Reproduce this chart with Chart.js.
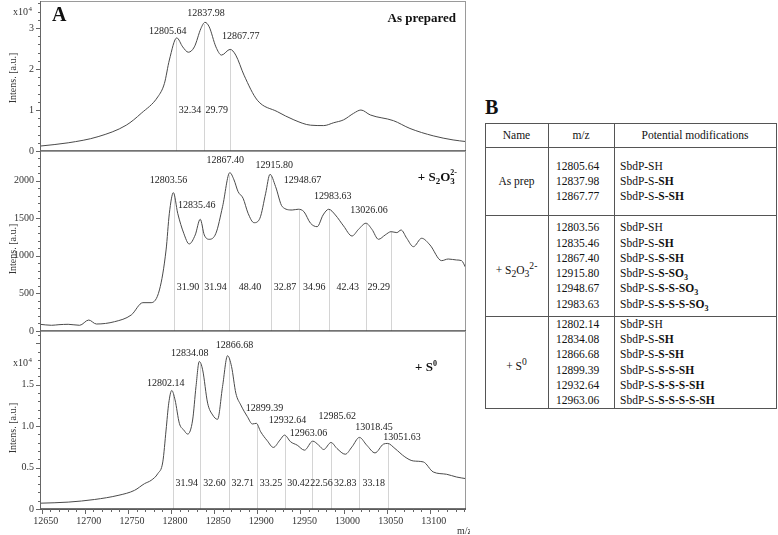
<!DOCTYPE html>
<html><head><meta charset="utf-8">
<script src="https://cdn.jsdelivr.net/npm/chart.js@4.4.1/dist/chart.umd.min.js"></script>
<style>
html,body{margin:0;padding:0;background:#fff;}
body{width:778px;height:535px;position:relative;overflow:hidden;font-family:"Liberation Serif","Times New Roman",serif;color:#111;}
canvas{position:absolute;left:0;}
.t{position:absolute;white-space:nowrap;font-size:11.5px;line-height:14px;}
.ln{position:absolute;background:#555;}
</style></head><body>
<canvas id="c1" width="470" height="160" style="top:0px"></canvas>
<canvas id="c2" width="470" height="190" style="top:150px"></canvas>
<canvas id="c3" width="470" height="205" style="top:330px"></canvas>
<div id="tbl"></div>
<script>
// ---------------- DATA ----------------
const xTickLabels = [12650,12700,12750,12800,12850,12900,12950,13000,13050,13100];

// Panel 1: As prepared (intensity x10^4)
const prepMz  = [12648,12680.7,12715.4,12748,12765.4,12784.6,12792.3,12798,12806.6,12813.5,12820,12827,12834.6,12839.3,12844.2,12852,12858.5,12868.5,12875,12884.6,12900,12923.2,12942.4,12961.7,12977,12988.6,13000,13011.7,13020.2,13031,13057.9,13077,13104,13127,13142];
const prepInt = [0.12,0.2,0.35,0.63,0.92,1.32,1.65,2.22,2.76,2.54,2.41,2.54,2.99,3.14,3.03,2.54,2.34,2.48,2.34,1.85,1.24,0.96,0.76,0.63,0.62,0.69,0.76,0.92,1.0,0.88,0.74,0.55,0.37,0.27,0.23];
const prepPeaks = [12805.64,12837.98,12867.77];
const prepLabelMz  = [12796.2,12840.4,12880.8];
const prepLabelInt = [2.93,3.36,2.80];
const prepDistInt = 1.0;

// Panel 2: + S2O3 2- (intensity a.u.)
const thioMz  = [12648,12661.4,12670,12680.7,12694,12704.5,12713.4,12734.5,12753.8,12767.3,12776.9,12786.5,12794.2,12798,12802.7,12807.7,12814.7,12821,12828,12833.8,12838.5,12844.2,12852,12859.7,12868.1,12873,12877.7,12883.5,12889.3,12896.2,12903,12909.7,12914.7,12921.2,12929,12940.5,12947.5,12954,12961.7,12969.4,12976.3,12982.8,12990.5,13000,13009.8,13017.4,13026,13032.9,13040.5,13048.3,13055.2,13061.8,13066.7,13073.3,13081,13090.6,13100.2,13113.7,13121.4,13131,13136.8,13142];
const thioInt = [89,76,84,89,76,146,93,124,213,377,377,546,1078,1566,1841,1566,1300,1158,1278,1487,1278,1220,1300,1654,2107,2010,1854,1766,1566,1441,1500,1833,2085,1921,1654,1610,1620,1588,1434,1388,1544,1620,1544,1398,1264,1353,1434,1353,1220,1278,1322,1309,1344,1234,1122,1234,1145,936,958,945,936,834];
const thioPeaks = [12803.56,12835.46,12867.40,12915.80,12948.67,12983.63,13026.06,13055.35];
const thioLabels = ['12803.56','12835.46','12867.40','12915.80','12948.67','12983.63','13026.06'];
const thioLabelMz  = [12796.9,12829.7,12862.7,12919.7,12952.4,12987.4,13029.4];
const thioLabelInt = [2010,1677,2267,2200,2000,1797,1601];
const thioDistInt = 586;

// Panel 3: + S0 (intensity x10^4)
const sulfMz  = [12648,12680.7,12711.4,12738.5,12757.6,12769.2,12776.9,12784.6,12790.4,12794.2,12797.3,12800.8,12804.6,12809.6,12814.7,12819.3,12825,12828.9,12832.7,12836.6,12842.4,12848.2,12853.9,12859.7,12865.5,12870.1,12875.1,12880.8,12888.5,12894.3,12898.9,12903.9,12911.6,12918.6,12926.2,12931.6,12938.6,12946.3,12954.7,12964.3,12971.2,12977,12985.5,12992.4,13002,13009.8,13018.4,13026.9,13036.5,13046.3,13051.2,13059.6,13071.1,13080.8,13092.5,13104,13119.5,13131,13142];
const sulfInt = [0.07,0.083,0.115,0.164,0.225,0.306,0.346,0.427,0.568,0.953,1.277,1.43,1.317,1.034,0.953,0.904,1.074,1.478,1.78,1.68,1.277,1.135,1.082,1.478,1.85,1.72,1.398,1.256,1.114,1.026,1.034,0.932,0.823,0.743,0.831,0.892,0.811,0.77,0.71,0.819,0.77,0.718,0.803,0.73,0.661,0.75,0.864,0.77,0.677,0.783,0.791,0.73,0.629,0.58,0.568,0.447,0.419,0.386,0.366];
const sulfPeaks = [12802.14,12834.08,12866.68,12899.39,12932.64,12963.06,12985.62,13018.45,13051.63];
const sulfLabelMz  = [12793.9,12821.6,12873.6,12908.2,12935.1,12959.4,12992.8,13035.2,13067.9];
const sulfLabelInt = [1.511,1.883,1.976,1.216,1.074,0.913,1.114,0.981,0.864];
const sulfDistInt = 0.306;

// Table B
const tableNames = ['As prep','+ S<sub>2</sub>O<sub>3</sub><sup>2-</sup>','+ S<sup>0</sup>'];
const tableMz = [
  ['12805.64','12837.98','12867.77'],
  ['12803.56','12835.46','12867.40','12915.80','12948.67','12983.63'],
  ['12802.14','12834.08','12866.68','12899.39','12932.64','12963.06']
];
const tableMods = [
  ['SbdP-SH','SbdP-S-SH','SbdP-S-S-SH'],
  ['SbdP-SH','SbdP-S-SH','SbdP-S-S-SH','SbdP-S-S-SO3','SbdP-S-S-S-SO3','SbdP-S-S-S-S-SO3'],
  ['SbdP-SH','SbdP-S-SH','SbdP-S-S-SH','SbdP-S-S-S-SH','SbdP-S-S-S-S-SH','SbdP-S-S-S-S-S-SH']
];

// ---------------- DRAWING ----------------
const FONT = '"Liberation Serif","Times New Roman",serif';
const X_MIN = 12648, X_MAX = 13142;

function interp(xs, ys, x){
  for(let i=0;i<xs.length-1;i++){
    if(x>=xs[i] && x<=xs[i+1]){ const t=(x-xs[i])/(xs[i+1]-xs[i]); return ys[i]+t*(ys[i+1]-ys[i]); }
  }
  return ys[ys.length-1];
}

function drawRich(ctx, segs, xRight, yBase){
  let w=0;
  segs.forEach(s=>{ ctx.font='bold '+s.size+'px '+FONT; const m=ctx.measureText(s.t).width; if(!s.noAdv) w+=m; });
  let x=xRight-w;
  segs.forEach(s=>{ ctx.font='bold '+s.size+'px '+FONT; ctx.fillText(s.t,x,yBase+(s.dy||0)); if(!s.noAdv) x+=ctx.measureText(s.t).width; });
}

const decor = {
  id:'decor',
  beforeDatasetsDraw(chart, args, o){
    const ctx=chart.ctx, xs=chart.scales.x, ys=chart.scales.y, a=chart.chartArea;
    ctx.save();
    ctx.strokeStyle='#d4d4d4'; ctx.lineWidth=1;
    o.peaks.forEach(p=>{
      const px=Math.round(xs.getPixelForValue(p))+0.5;
      const top=ys.getPixelForValue(interp(o.mz,o.int,p));
      ctx.beginPath(); ctx.moveTo(px,top); ctx.lineTo(px,a.bottom); ctx.stroke();
    });
    ctx.restore();
  },
  afterDraw(chart, args, o){
    const ctx=chart.ctx, xs=chart.scales.x, ys=chart.scales.y, a=chart.chartArea;
    ctx.save();
    // frame
    ctx.strokeStyle='#9a9a9a'; ctx.lineWidth=1;
    ctx.strokeRect(a.left+0.5,a.top+0.5,a.right-a.left-1,a.bottom-a.top);
    ctx.strokeStyle='#444'; ctx.lineWidth=1.5;
    ctx.beginPath(); ctx.moveTo(a.left,a.bottom); ctx.lineTo(a.right,a.bottom); ctx.stroke();
    ctx.strokeStyle='#666'; ctx.lineWidth=1;
    ctx.beginPath(); ctx.moveTo(a.left+0.5,a.top); ctx.lineTo(a.left+0.5,a.bottom); ctx.stroke();
    // y ticks
    ctx.strokeStyle='#666';
    ys.ticks.forEach(t=>{
      const py=Math.round(ys.getPixelForValue(t.value))+0.5;
      const len = o.isMajorY(t.value)?4:2;
      ctx.beginPath(); ctx.moveTo(a.left-len,py); ctx.lineTo(a.left,py); ctx.stroke();
    });
    // x ticks
    if(o.showX){
      xs.ticks.forEach(t=>{
        const px=Math.round(xs.getPixelForValue(t.value))+0.5;
        const len = (t.value%50===0)?5:3;
        ctx.beginPath(); ctx.moveTo(px,a.bottom); ctx.lineTo(px,a.bottom+len); ctx.stroke();
      });
      ctx.fillStyle='#333'; ctx.font='10px '+FONT; ctx.textAlign='left'; ctx.textBaseline='alphabetic';
      ctx.fillText('m/z', 457, a.bottom+25);
    }
    // y title
    ctx.save();
    ctx.translate(13,(a.top+a.bottom)/2+o.titleDy);
    ctx.rotate(-Math.PI/2);
    ctx.fillStyle='#333'; ctx.font='10px '+FONT; ctx.textAlign='center'; ctx.textBaseline='middle';
    ctx.fillText('Intens. [a.u.]',0,0);
    ctx.restore();
    // x10^4
    if(o.expY!==null){
      ctx.fillStyle='#333'; ctx.textAlign='left'; ctx.textBaseline='alphabetic';
      ctx.font='10px '+FONT; const w=ctx.measureText('x10').width; ctx.fillText('x10',13,a.top+o.expY);
      ctx.font='7px '+FONT; ctx.fillText('4',13+w+0.5,a.top+o.expY-4);
    }
    // peak labels
    ctx.fillStyle='#222'; ctx.font='10px '+FONT; ctx.textAlign='center'; ctx.textBaseline='middle';
    o.labels.forEach((l,i)=>{
      ctx.fillText(l, xs.getPixelForValue(o.labelMz[i]), ys.getPixelForValue(o.labelInt[i]));
    });
    // distance labels
    for(let i=0;i<o.peaks.length-1;i++){
      const d=(o.peaks[i+1]-o.peaks[i]).toFixed(2);
      const mx=(xs.getPixelForValue(o.peaks[i])+xs.getPixelForValue(o.peaks[i+1]))/2;
      ctx.fillText(d,mx,ys.getPixelForValue(o.distInt));
    }
    // panel title
    ctx.fillStyle='#111'; ctx.textAlign='left'; ctx.textBaseline='alphabetic';
    drawRich(ctx,o.title,o.titleRight,a.top+o.titleBase);
    if(o.letter){ ctx.font='bold 20px '+FONT; ctx.fillText(o.letter,52,a.top+20); }
    ctx.restore();
  }
};

function range(a,b,s){ const r=[]; for(let v=a; v<=b+1e-9; v+=s) r.push(Math.round(v*1000)/1000); return r; }

function makePanel(id, mz, inten, cfg){
  const pts = mz.map((x,i)=>({x:x,y:inten[i]}));
  return new Chart(document.getElementById(id),{
    type:'line',
    data:{datasets:[{data:pts,borderColor:'#4a4a4a',borderWidth:1,pointRadius:0,cubicInterpolationMode:'monotone',fill:false}]},
    options:{
      responsive:false, animation:false, events:[],
      layout:{padding:{top:1,bottom:cfg.padBottom,left:0,right:4}},
      plugins:{legend:{display:false},tooltip:{enabled:false},
        decor:{peaks:cfg.peaks,mz:mz,int:inten,labels:cfg.labels,labelMz:cfg.labelMz,labelInt:cfg.labelInt,distInt:cfg.distInt,
          isMajorY:cfg.isMajorY,showX:cfg.showX,expY:cfg.expY,titleDy:cfg.titleDy,title:cfg.title,titleRight:cfg.titleRight,titleBase:cfg.titleBase,letter:cfg.letter}},
      scales:{
        x:{type:'linear',min:X_MIN,max:X_MAX,display:cfg.showX,
           grid:{display:false,drawTicks:false},border:{display:false},
           afterBuildTicks:s=>{ s.ticks = range(12650,13140,10).map(v=>({value:v})); },
           afterFit:s=>{ s.height = cfg.showX ? 22 : 0; s.paddingLeft=0; s.paddingRight=0; s.paddingTop=0; s.paddingBottom=0; },
           ticks:{autoSkip:false,maxRotation:0,padding:6,labelOffset:4,color:'#333',font:{family:FONT,size:10},
             callback:v=> xTickLabels.includes(v)? String(v) : ''}},
        y:{min:0,max:cfg.yMax,
           grid:{display:false,drawTicks:false},border:{display:false},
           afterBuildTicks:s=>{ s.ticks = cfg.yTicks.map(v=>({value:v})); },
           afterFit:s=>{ s.width=40; s.paddingTop=0; s.paddingBottom=0; s.paddingLeft=0; s.paddingRight=0; },
           ticks:{autoSkip:false,padding:6,color:'#333',font:{family:FONT,size:10},
             callback:v=> cfg.isLabelY(v)? cfg.fmt(v) : ''}}
      }
    },
    plugins:[decor]
  });
}

const near=(v,s)=>Math.abs(v/s-Math.round(v/s))<1e-6;

makePanel('c1', prepMz, prepInt, {
  padBottom:9, yMax:3.66, yTicks:range(0,3.6,0.2), isMajorY:v=>near(v,1), isLabelY:v=>near(v,1), fmt:v=>String(Math.round(v)),
  peaks:prepPeaks, labels:prepPeaks.map(p=>p.toFixed(2)), labelMz:prepLabelMz, labelInt:prepLabelInt, distInt:prepDistInt,
  showX:false, expY:14, titleDy:2,
  title:[{t:'As prepared',size:13}], titleRight:456, titleBase:21, letter:'A'
});
makePanel('c2', thioMz, thioInt, {
  padBottom:9, yMax:2395, yTicks:range(0,2300,100), isMajorY:v=>near(v,500), isLabelY:v=>near(v,500), fmt:v=>String(v),
  peaks:thioPeaks, labels:thioLabels, labelMz:thioLabelMz, labelInt:thioLabelInt, distInt:thioDistInt,
  showX:false, expY:null, titleDy:8,
  title:[{t:'+ S',size:13},{t:'2',size:9,dy:3},{t:'O',size:13},{t:'3',size:9,dy:3,noAdv:true},{t:'2-',size:8,dy:-6}],
  titleRight:457, titleBase:30, letter:null
});
makePanel('c3', sulfMz, sulfInt, {
  padBottom:4, yMax:2.148, yTicks:range(0,2.1,0.1), isMajorY:v=>near(v,0.5), isLabelY:v=>near(v,0.5)&&v<1.9, fmt:v=> v===0?'0':v.toFixed(1),
  peaks:sulfPeaks, labels:sulfPeaks.map(p=>p.toFixed(2)), labelMz:sulfLabelMz, labelInt:sulfLabelInt, distInt:sulfDistInt,
  showX:true, expY:35, titleDy:8,
  title:[{t:'+ S',size:13},{t:'0',size:8,dy:-5}], titleRight:437, titleBase:40, letter:null
});

// ---------------- TABLE B ----------------
(function(){
  const tbl=document.getElementById('tbl');
  const L=485, R=776, C1=548, C2=614, TOP=123, HB=147;
  const secTop=[147,215,316], secBot=[215,316,408], rowH=15.3;
  function div(cls,style,html){ const d=document.createElement('div'); d.className=cls; d.style.cssText=style; d.innerHTML=html||''; tbl.appendChild(d); return d; }
  div('t','left:485px;top:96px;font-size:20px;font-weight:bold;line-height:22px;','B');
  div('ln',`left:${L}px;top:${TOP}px;width:${R-L+1}px;height:1px;`);
  div('ln',`left:${L}px;top:${HB}px;width:${R-L+1}px;height:1px;`);
  secBot.forEach(b=>div('ln',`left:${L}px;top:${b}px;width:${R-L+1}px;height:1px;`));
  [L,C1,C2,R].forEach(x=>div('ln',`left:${x}px;top:${TOP}px;width:1px;height:${secBot[2]-TOP+1}px;`));
  const hy=(TOP+HB)/2-7;
  div('t',`left:${L}px;width:${C1-L}px;text-align:center;top:${hy}px;`,'Name');
  div('t',`left:${C1}px;width:${C2-C1}px;text-align:center;top:${hy}px;`,'m/z');
  div('t',`left:${C2}px;width:${R-C2}px;text-align:center;top:${hy}px;`,'Potential modifications');
  function modHtml(m){
    if(m==='SbdP-SH') return m;
    const rest=m.slice('SbdP-S-'.length).replace('SO3','SO<sub style="font-size:8px">3</sub>');
    return 'SbdP-S-<b>'+rest+'</b>';
  }
  tableMz.forEach((rows,s)=>{
    const h=secBot[s]-secTop[s];
    const first = secTop[s] + (h - rows.length*rowH)/2 + rowH/2;
    const mid = (secTop[s]+secBot[s])/2;
    div('t',`left:${L}px;width:${C1-L}px;text-align:center;top:${mid-7}px;`,tableNames[s]);
    rows.forEach((mzv,i)=>{
      const cy=first+i*rowH;
      div('t',`left:${C1+8}px;top:${cy-7}px;`,mzv);
      div('t',`left:${C2+6}px;top:${cy-7}px;`,modHtml(tableMods[s][i]));
    });
  });
})();
</script>
</body></html>
